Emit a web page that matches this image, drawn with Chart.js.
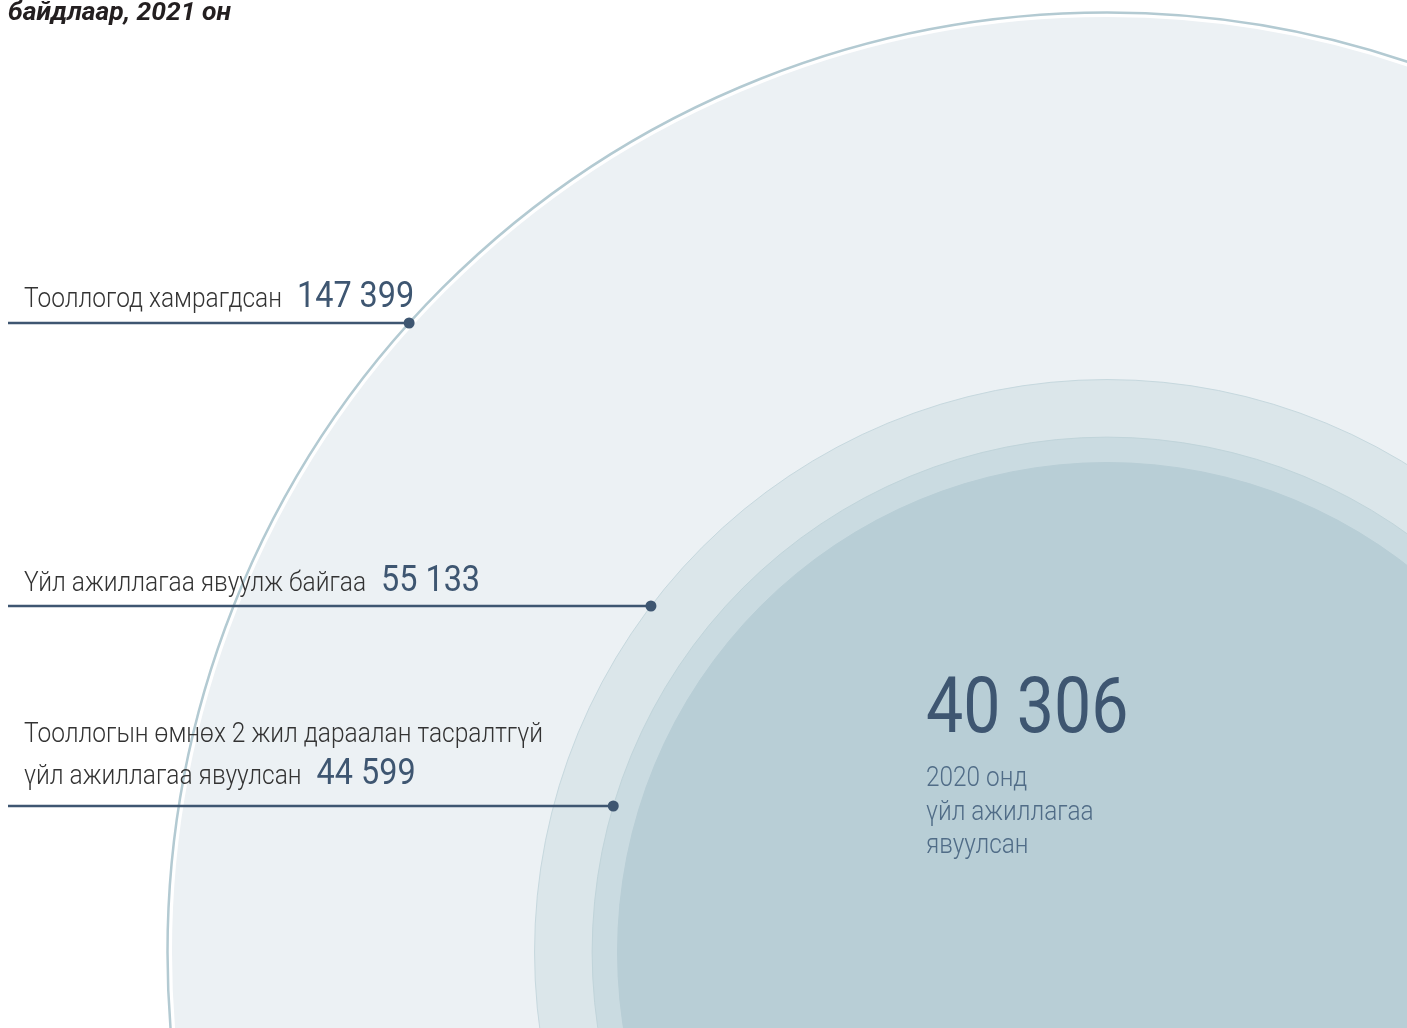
<!DOCTYPE html>
<html lang="mn">
<head>
<meta charset="utf-8">
<title>Аж ахуйн нэгж, байгууллага</title>
<script src="https://cdn.jsdelivr.net/npm/chart.js@4.4.1/dist/chart.umd.min.js"></script>
<style>
    html, body { margin: 0; padding: 0; background: #ffffff; }
    #wrap { width: 1407px; height: 1028px; overflow: hidden; }
</style>
</head>
<body>
<div id="wrap"><canvas id="chart" width="1407" height="1028"></canvas></div>
<script>
// Data
const titleText = 'байдлаар, 2021 он';
const labelLines = [
    ['Тооллогод хамрагдсан'],
    ['Үйл ажиллагаа явуулж байгаа'],
    ['Тооллогын өмнөх 2 жил дараалан тасралтгүй', 'үйл ажиллагаа явуулсан'],
    ['2020 онд', 'үйл ажиллагаа', 'явуулсан']
];
const values = [147399, 55133, 44599, 40306];

// Look
const fills = ['#ECF1F4', '#DBE6EA', '#CADBE1', '#B8CED6'];
const strokes = ['#FFFFFF', '#C6D8DE', '#C0D4DA', '#B8CED6'];
const ringColor = '#B3CAD2';
const RING_GAP = 3.5;
const darkBlue = '#3E5671';
const R_MAX = 936;                    // bubble radius of the biggest value (px)
const leaderLevels = [629, 346, 146]; // leader lines, height above the circles' centre
const labelBaselines = [[307], [591], [742, 784]];
const CONDENSE = 0.875;

function fmt(v) {
    return String(v).replace(/\B(?=(\d{3})+(?!\d))/g, ' ');
}

// circle area follows the value
function radiusOf(i) {
    return R_MAX * Math.sqrt(values[i] / values[0]);
}

function drawText(ctx, str, x, y, font, color, sx) {
    ctx.save();
    ctx.font = font;
    ctx.fillStyle = color;
    ctx.textAlign = 'left';
    ctx.textBaseline = 'alphabetic';
    ctx.translate(x, y);
    ctx.scale(sx, 1);
    ctx.fillText(str, 0, 0);
    const w = ctx.measureText(str).width * sx;
    ctx.restore();
    return w;
}

// Datasets
const datasets = [];

// outer ring around the biggest circle
datasets.push({
    type: 'bubble',
    data: [{ x: 0, y: 0, r: radiusOf(0) + RING_GAP }],
    backgroundColor: 'rgba(0,0,0,0)',
    borderColor: ringColor,
    borderWidth: 2.5,
    clip: false,
    order: 10
});

values.forEach((v, i) => {
    datasets.push({
        type: 'bubble',
        data: [{ x: 0, y: 0, r: radiusOf(i) }],
        backgroundColor: fills[i],
        borderColor: strokes[i],
        borderWidth: i === 0 ? 2 : 1,
        clip: false,
        order: 9 - i
    });
});

// leader lines, ending on the edge of their circle (the ring for the biggest one)
leaderLevels.forEach((h, i) => {
    const r = radiusOf(i) + (i === 0 ? RING_GAP : 0);
    const xEnd = -Math.sqrt(r * r - h * h);
    datasets.push({
        type: 'line',
        data: [{ x: -1099, y: h }, { x: xEnd, y: h }],
        borderColor: darkBlue,
        borderWidth: 2.5,
        pointRadius: [0, 5.5],
        pointBackgroundColor: darkBlue,
        pointBorderWidth: 0,
        clip: false,
        order: 0
    });
});

// Text plugin
const textPlugin = {
    id: 'textLabels',
    afterDatasetsDraw(chart) {
        const ctx = chart.ctx;

        drawText(ctx, titleText, 8, 20, 'italic 700 26.5px Roboto', '#231F20', 1);

        // side labels
        for (let i = 0; i < 3; i++) {
            const lines = labelLines[i];
            let w = 0;
            lines.forEach((line, k) => {
                w = drawText(ctx, line, 24, labelBaselines[i][k], '300 28px Roboto', '#333333', CONDENSE);
            });
            const last = labelBaselines[i][lines.length - 1];
            drawText(ctx, fmt(values[i]), 24 + w + 15, last, '400 37px Roboto', darkBlue, CONDENSE);
        }

        // centre label
        drawText(ctx, fmt(values[3]), 926, 732, '400 77px Roboto', darkBlue, 0.86);
        labelLines[3].forEach((line, k) => {
            drawText(ctx, line, 926, 786 + k * 33.5, '300 28px Roboto', '#506C87', 0.87);
        });
    }
};

function build() {
    new Chart(document.getElementById('chart'), {
        type: 'bubble',
        data: { datasets: datasets },
        options: {
            responsive: false,
            animation: false,
            events: [],
            layout: { padding: 0, autoPadding: false },
            plugins: {
                legend: { display: false },
                tooltip: { enabled: false }
            },
            scales: {
                x: { type: 'linear', min: -1107, max: 300, display: false },
                y: { type: 'linear', min: -76, max: 952, display: false }
            }
        },
        plugins: [textPlugin]
    });
}

if (document.fonts && document.fonts.load) {
    Promise.all([
        document.fonts.load('300 28px Roboto'),
        document.fonts.load('400 37px Roboto'),
        document.fonts.load('italic 700 26.5px Roboto')
    ]).then(build, build);
} else {
    build();
}
</script>
</body>
</html>
